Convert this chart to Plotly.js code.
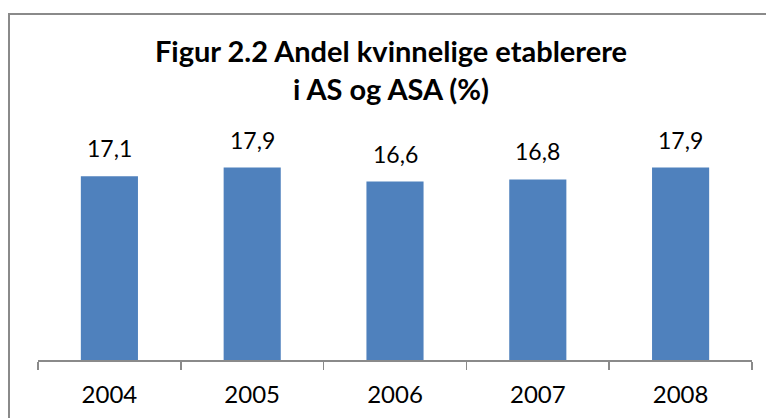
<!DOCTYPE html>
<html>
<head>
<meta charset="utf-8">
<script src="https://cdn.plot.ly/plotly-3.0.1.min.js"></script>
<style>
  html, body { margin: 0; padding: 0; background: #fff; overflow: hidden; }
  #frame { position: absolute; left: 8px; top: 13px; width: 900px; height: 500px; border: 2px solid #8a8a8a; box-sizing: border-box; }
  #chart { position: absolute; left: 0; top: 0; width: 766px; height: 418px; }
</style>
</head>
<body>
<div id="frame"></div>
<div id="chart"></div>
<script>
const years = ["2004", "2005", "2006", "2007", "2008"];
const shares = [17.1, 17.9, 16.6, 16.8, 17.9];
const shareLabels = ["17,1", "17,9", "16,6", "16,8", "17,9"];

const trace = {
  type: "bar",
  x: years,
  y: shares,
  marker: { color: "#4F81BD" },
  hoverinfo: "x+y"
};

const annotations = years.map((yr, i) => ({
  x: i, y: shares[i], xref: "x", yref: "y",
  text: shareLabels[i], showarrow: false,
  yanchor: "bottom", yshift: 12,
  font: { family: "Lato, 'Open Sans', sans-serif", size: 23, color: "#000" }
}));

const layout = {
  width: 766, height: 418,
  paper_bgcolor: "rgba(0,0,0,0)",
  plot_bgcolor: "rgba(0,0,0,0)",
  margin: { l: 38, r: 14, t: 145, b: 58 },
  bargap: 0.6,
  showlegend: false,
  title: {
    text: "Figur 2.2 Andel kvinnelige etablerere<br>i AS og ASA (%)",
    font: { family: "Lato, 'Open Sans', sans-serif", size: 29, color: "#000", weight: "bold" },
    xref: "container", x: 391 / 766, xanchor: "center",
    yref: "container", y: 1 - 62 / 418, yanchor: "top"
  },
  xaxis: {
    type: "category",
    range: [-0.5, 4.5],
    showline: true, linecolor: "#8a8a8a", linewidth: 1.5,
    ticks: "outside", tickson: "boundaries", ticklen: 8, tickcolor: "#8a8a8a", tickwidth: 1.5,
    ticklabelstandoff: 13,
    tickfont: { family: "Lato, 'Open Sans', sans-serif", size: 24, color: "#000" },
    showgrid: false, zeroline: false
  },
  yaxis: {
    range: [0, 20],
    visible: false, showgrid: false, zeroline: false
  },
  annotations: annotations
};

Plotly.newPlot("chart", [trace], layout, { displayModeBar: false, staticPlot: true });
</script>
</body>
</html>
